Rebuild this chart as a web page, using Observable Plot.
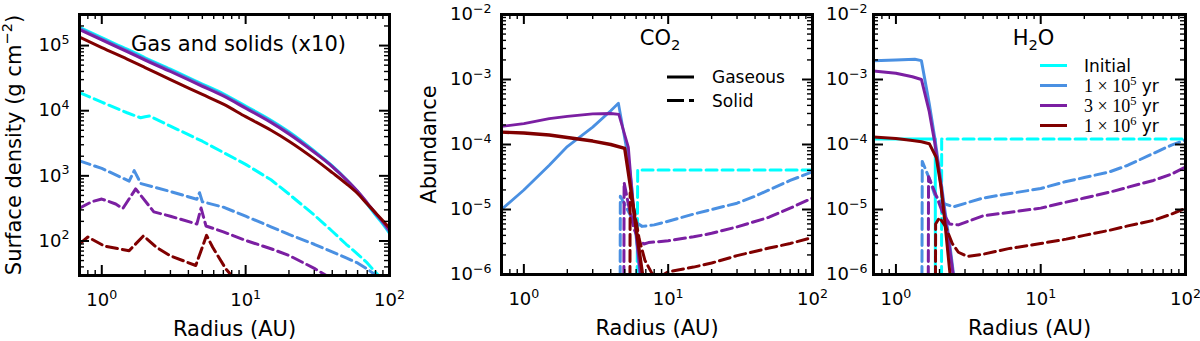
<!DOCTYPE html>
<html><head><meta charset="utf-8">
<script src="https://cdn.jsdelivr.net/npm/d3@7"></script>
<script src="https://cdn.jsdelivr.net/npm/@observablehq/plot@0.6"></script>
<style>
html,body{margin:0;padding:0;background:#fff;}
#chart{position:relative;width:1200px;height:341px;overflow:hidden;font-family:"DejaVu Sans",sans-serif;}
#chart svg{position:absolute;top:0;overflow:visible;}
</style></head><body><div id="chart"></div>
<script>
// ---------- tick values / labels ----------
const xMajor = [1, 10, 100];
const xMinor = [0.7, 0.8, 0.9, 2, 3, 4, 5, 6, 7, 8, 9, 20, 30, 40, 50, 60, 70, 80, 90];
const xTickLabels = ["10^{0}", "10^{1}", "10^{2}"];
const sigmaMajor = [1e2, 1e3, 1e4, 1e5];
const sigmaMinor = [30, 40, 50, 60, 70, 80, 90, 200, 300, 400, 500, 600, 700, 800, 900,
  2000, 3000, 4000, 5000, 6000, 7000, 8000, 9000, 2e4, 3e4, 4e4, 5e4, 6e4, 7e4, 8e4, 9e4, 2e5, 3e5];
const sigmaTickLabels = ["10^{2}", "10^{3}", "10^{4}", "10^{5}"];
const abMajor = [1e-6, 1e-5, 1e-4, 1e-3, 1e-2];
const abMinor = [2e-6, 3e-6, 4e-6, 5e-6, 6e-6, 7e-6, 8e-6, 9e-6, 2e-5, 3e-5, 4e-5, 5e-5, 6e-5, 7e-5, 8e-5, 9e-5,
  2e-4, 3e-4, 4e-4, 5e-4, 6e-4, 7e-4, 8e-4, 9e-4, 2e-3, 3e-3, 4e-3, 5e-3, 6e-3, 7e-3, 8e-3, 9e-3];
const abTickLabels = ["10^{−6}", "10^{−5}", "10^{−4}", "10^{−3}", "10^{−2}"];

// ---------- series (time order: Initial, 1e5, 3e5, 1e6 yr) ----------
const timeLabels = ["Initial", "1×10^{5} yr", "3×10^{5} yr", "1×10^{6} yr"];
const timeColors = ["#00ffff", "#4a90e2", "#7b1fa2", "#800000"];
const phaseLabels = ["Gaseous", "Solid"];

// Panel 1: surface density (gas solid lines, solids x10 dashed)
const gasRadius = [0.7, 1, 1.5, 2, 3, 5, 7, 10, 15, 20, 30, 40, 50, 60, 70, 80, 90, 100];
const gasInitial = [1.91e5, 1.32e5, 8.8e4, 6.5e4, 4.34e4, 2.57e4, 1.82e4, 1.18e4, 7.15e3, 4.75e3, 2.41e3, 1.42e3, 880, 567, 367, 249, 181, 131];
const gas1e5 = [1.84e5, 1.27e5, 8.45e4, 6.25e4, 4.17e4, 2.47e4, 1.75e4, 1.13e4, 6.85e3, 4.57e3, 2.35e3, 1.40e3, 880, 573, 376, 258, 189, 137];
const gas3e5 = [1.76e5, 1.22e5, 8.1e4, 6.0e4, 4.0e4, 2.37e4, 1.68e4, 1.09e4, 6.6e3, 4.4e3, 2.3e3, 1.39e3, 880, 580, 385, 267, 197, 144];
const gas1e6 = [1.35e5, 9.3e4, 6.2e4, 4.6e4, 3.0e4, 1.78e4, 1.26e4, 8.1e3, 5.0e3, 3.4e3, 1.82e3, 1.12e3, 760, 535, 370, 270, 204, 158];

const solidInitial = [[0.7, 1.9e4], [1, 1.35e4], [1.5, 9.3e3], [1.86, 7.8e3], [2.0, 8.1e3], [2.14, 8.3e3], [3, 5.8e3], [5, 3.4e3], [10, 1.5e3], [15, 870], [20, 525], [30, 250], [40, 141], [50, 89], [60, 63], [70, 46], [80, 33], [90, 25], [100, 19]];
const solid1e5 = [[0.7, 1.7e3], [1, 1.3e3], [1.55, 830], [1.68, 1.2e3], [1.87, 760], [3, 575], [4.58, 437], [4.78, 550], [5.0, 400], [7, 330], [10, 240], [15, 165], [20, 126], [30, 89], [40, 68], [50, 55], [60, 46], [70, 37], [80, 30], [100, 20]];
const solid3e5 = [[0.7, 320], [0.85, 400], [1.0, 440], [1.25, 370], [1.4, 315], [1.72, 630], [2.3, 280], [3, 240], [4.58, 182], [4.9, 320], [5.3, 170], [7, 138], [10, 102], [15, 76], [20, 60], [30, 38], [40, 26], [60, 14], [100, 6]];
const solid1e6 = [[0.7, 90], [0.8, 115], [1.05, 83], [1.3, 76], [1.55, 71], [1.95, 120], [2.4, 80], [3, 59], [4.5, 42], [5.35, 122], [5.9, 80], [7.3, 37], [8.5, 25], [10, 18]];

// Panel 2: CO2 abundance [radius AU, abundance]
const co2GasInitial = [];
const co2Gas1e5 = [[0.7, 1.0e-5], [1, 2.0e-5], [1.5, 4.8e-5], [2, 9.3e-5], [3, 1.85e-4], [4, 3.3e-4], [4.52, 4.3e-4], [4.9, 1.6e-4], [5.3, 6e-5], [5.6, 2.2e-5], [5.9, 5.5e-6], [6.3, 1.2e-6], [6.7, 3e-7]];
const co2Gas3e5 = [[0.7, 1.9e-4], [1, 2.1e-4], [1.5, 2.5e-4], [2, 2.7e-4], [3, 2.95e-4], [4, 3.0e-4], [4.55, 2.9e-4], [5.3, 9e-5], [5.6, 2.0e-5], [6.0, 4.2e-6], [6.4, 1.1e-6], [6.8, 3e-7]];
const co2Gas1e6 = [[0.7, 1.55e-4], [1, 1.5e-4], [1.5, 1.4e-4], [2, 1.28e-4], [3, 1.13e-4], [4, 1.0e-4], [5, 8.7e-5], [5.5, 2.1e-5], [6, 5.1e-6], [6.6, 1.1e-6], [7, 4.4e-7]];
const co2SolidInitial = [[6.0, 1e-9], [6.15, 4.07e-5], [100, 4.07e-5]];
const co2Solid1e5 = [[4.62, 1e-9], [4.66, 1.6e-5], [5.0, 1.2e-5], [5.5, 8e-6], [6.0, 6.3e-6], [6.6, 5.5e-6], [8, 5.8e-6], [10, 6.6e-6], [15, 8.5e-6], [20, 1.0e-5], [30, 1.25e-5], [40, 1.6e-5], [50, 2.0e-5], [70, 2.8e-5], [100, 3.8e-5]];
const co2Solid3e5 = [[4.9, 1e-9], [4.95, 2.6e-5], [5.3, 1.2e-5], [5.8, 5e-6], [6.3, 3.3e-6], [6.8, 2.95e-6], [7.3, 3.1e-6], [10, 3.3e-6], [15, 3.8e-6], [20, 4.3e-6], [30, 5.4e-6], [50, 7.6e-6], [70, 1.05e-5], [100, 1.5e-5]];
const co2Solid1e6 = [[5.4, 1e-9], [5.45, 1.8e-5], [5.8, 1.0e-5], [6.3, 3.5e-6], [6.9, 1.65e-6], [7.7, 1.05e-6], [8.4, 9e-7], [9.3, 1.0e-6], [10, 1.1e-6], [15, 1.3e-6], [20, 1.5e-6], [30, 1.95e-6], [50, 2.55e-6], [70, 3.0e-6], [100, 3.7e-6]];

// Panel 3: H2O abundance [radius AU, abundance]
const h2oGasInitial = [[0.7, 1.22e-4], [1.87, 1.22e-4], [1.875, 1e-9]];
const h2oGas1e5 = [[0.7, 1.95e-3], [1, 2.0e-3], [1.35, 2.05e-3], [1.5, 1.95e-3], [1.7, 4.2e-4], [1.85, 1.3e-4], [2.0, 4e-5], [2.15, 1.2e-5], [2.35, 3e-6], [2.5, 1e-6], [2.7, 3e-7]];
const h2oGas3e5 = [[0.7, 1.35e-3], [1, 1.25e-3], [1.3, 1.1e-3], [1.5, 1.0e-3], [1.7, 3.2e-4], [1.85, 1.1e-4], [2.0, 3.5e-5], [2.15, 1e-5], [2.35, 2.5e-6], [2.5, 9e-7], [2.7, 3e-7]];
const h2oGas1e6 = [[0.7, 1.3e-4], [1, 1.24e-4], [1.3, 1.15e-4], [1.5, 1.1e-4], [1.7, 1.03e-4], [1.9, 6.3e-5], [2.05, 2.2e-5], [2.17, 6.8e-6], [2.35, 1.15e-6], [2.5, 3e-7]];
const h2oSolidInitial = [[2.06, 1e-9], [2.07, 1.22e-4], [100, 1.22e-4]];
const h2oSolid1e5 = [[1.5, 1e-9], [1.52, 5.5e-5], [1.7, 3e-5], [1.85, 1.7e-5], [2.1, 1.25e-5], [2.5, 1.1e-5], [4, 1.5e-5], [6, 1.75e-5], [10, 2.1e-5], [15, 2.7e-5], [20, 3.1e-5], [30, 3.8e-5], [40, 4.8e-5], [60, 7.3e-5], [80, 9.8e-5], [100, 1.17e-4]];
const h2oSolid3e5 = [[1.66, 1e-9], [1.68, 3.2e-5], [1.8, 2.2e-5], [1.95, 1.4e-5], [2.1, 9e-6], [2.35, 6e-6], [2.7, 5.8e-6], [4, 8e-6], [6, 9e-6], [10, 1.05e-5], [15, 1.3e-5], [20, 1.5e-5], [30, 1.85e-5], [40, 2.2e-5], [60, 2.8e-5], [80, 3.5e-5], [100, 4.5e-5]];
const h2oSolid1e6 = [[1.86, 1e-9], [1.88, 6e-6], [2.0, 7.5e-6], [2.2, 5.5e-6], [2.45, 3e-6], [2.7, 2.2e-6], [3.1, 1.9e-6], [4, 2.05e-6], [6, 2.5e-6], [10, 3.0e-6], [15, 3.5e-6], [20, 4e-6], [30, 4.8e-6], [40, 5.6e-6], [60, 6.8e-6], [80, 8.5e-6], [100, 1.05e-5]];

// ---------- helpers ----------
const FONT = "DejaVu Sans";
const DASH = "11,5";
const H = 341;
const TICKFS = 18;
const LABELFS = 21;

function richify(root) {
  d3.select(root).selectAll("text").each(function () {
    const s = this.textContent;
    if (!/[\^_]\{/.test(s)) return;
    const fs = parseFloat(this.getAttribute("font-size") || getComputedStyle(this).fontSize) || 17;
    const re = /([\^_])\{([^}]*)\}|([^\^_]+)/g;
    const parts = []; let m;
    while ((m = re.exec(s))) {
      if (m[3] !== undefined) parts.push({t: m[3], k: 0});
      else parts.push({t: m[2], k: m[1] === "^" ? -1 : 1});
    }
    this.textContent = "";
    let prev = 0;
    for (const p of parts) {
      const off = p.k === -1 ? -0.42 * fs : p.k === 1 ? 0.25 * fs : 0;
      const ts = d3.select(this).append("tspan").text(p.t);
      if (off - prev !== 0) ts.attr("dy", (off - prev).toFixed(2));
      if (p.k) ts.attr("font-size", (0.7 * fs).toFixed(1));
      prev = off;
    }
  });
}

function ticks(innerW, innerH, yMaj, yMin) {
  const L = 10, l = 5;
  const M = {stroke: "black", strokeWidth: 2};
  const m = {stroke: "black", strokeWidth: 1.4};
  return [
    Plot.tickX(xMajor, {x: d => d, insetTop: innerH - L, ...M}),
    Plot.tickX(xMajor, {x: d => d, insetBottom: innerH - L, ...M}),
    Plot.tickX(xMinor, {x: d => d, insetTop: innerH - l, ...m}),
    Plot.tickX(xMinor, {x: d => d, insetBottom: innerH - l, ...m}),
    Plot.tickY(yMaj, {y: d => d, insetRight: innerW - L, ...M}),
    Plot.tickY(yMaj, {y: d => d, insetLeft: innerW - L, ...M}),
    Plot.tickY(yMin, {y: d => d, insetRight: innerW - l, ...m}),
    Plot.tickY(yMin, {y: d => d, insetLeft: innerW - l, ...m})
  ];
}

function line(data, color, dashed, w = 3, curve = "linear") {
  return Plot.line(data, {x: d => d[0], y: d => d[1], stroke: color, strokeWidth: w, curve,
    strokeDasharray: dashed ? DASH : null, strokeLinejoin: "round", clip: true});
}

const T = {fill: "black", lineAnchor: "middle", text: d => d};

function xTickText() {
  return Plot.text(xTickLabels, {...T, x: (d, i) => xMajor[i], frameAnchor: "bottom", dy: 25, textAnchor: "middle", fontSize: TICKFS});
}
function yTickText(labels, values, dx) {
  return Plot.text(labels, {...T, y: (d, i) => values[i], frameAnchor: "left", dx, textAnchor: "end", fontSize: TICKFS});
}
function xTitle() {
  return Plot.text(["Radius (AU)"], {...T, frameAnchor: "bottom", dy: 54, textAnchor: "middle", fontSize: LABELFS});
}

function place(svg, left) {
  svg.style.left = left + "px";
  document.getElementById("chart").appendChild(svg);
  richify(svg);
}

// ---------- Panel 1 ----------
{
  const W = 400, ml = 79, mr = 11, mt = 14, mb = 66;
  const iw = W - ml - mr, ih = H - mt - mb;
  const gasSeries = [gasInitial, gas1e5, gas3e5, gas1e6].map(v => gasRadius.map((r, i) => [r, v[i]]));
  const solidSeries = [solidInitial, solid1e5, solid3e5, solid1e6];
  const marks = [];
  for (let i = 0; i < 4; i++) marks.push(line(gasSeries[i], timeColors[i], false, 3, "monotone-x"));
  for (let i = 0; i < 4; i++) marks.push(line(solidSeries[i], timeColors[i], true));
  const svg = Plot.plot({
    width: W, height: H, marginLeft: ml, marginRight: mr, marginTop: mt, marginBottom: mb,
    style: {fontFamily: FONT, fontSize: "17px", background: "transparent"},
    x: {type: "log", domain: [0.7, 100], axis: null},
    y: {type: "log", domain: [29.5, 3e5], axis: null},
    marks: [
      ...marks,
      ...ticks(iw, ih, sigmaMajor, sigmaMinor),
      Plot.frame({stroke: "black", strokeWidth: 3}),
      xTickText(),
      yTickText(sigmaTickLabels, sigmaMajor, -10),
      Plot.text(["Gas and solids (x10)"], {...T, frameAnchor: "top", dx: 4, dy: 29.5, textAnchor: "middle", fontSize: LABELFS}),
      xTitle(),
      Plot.text(["Surface density (g cm^{−2})"], {...T, frameAnchor: "left", dx: -65.5, rotate: -90, textAnchor: "middle", fontSize: LABELFS})
    ]
  });
  place(svg, 0);
}

// ---------- Panel 2 (CO2) ----------
{
  const W = 420, ml = 101, mr = 8, mt = 14, mb = 67;
  const iw = W - ml - mr, ih = H - mt - mb;
  const gas = [co2GasInitial, co2Gas1e5, co2Gas3e5, co2Gas1e6];
  const solid = [co2SolidInitial, co2Solid1e5, co2Solid3e5, co2Solid1e6];
  const marks = [];
  for (let i = 0; i < 4; i++) {
    if (gas[i].length) marks.push(line(gas[i], timeColors[i], false, i === 3 ? 3.4 : 2.8));
    marks.push(line(solid[i], timeColors[i], true));
  }
  const svg = Plot.plot({
    width: W, height: H, marginLeft: ml, marginRight: mr, marginTop: mt, marginBottom: mb,
    style: {fontFamily: FONT, fontSize: "17px", background: "transparent"},
    x: {type: "log", domain: [0.7, 100], axis: null},
    y: {type: "log", domain: [1e-6, 1e-2], axis: null},
    marks: [
      ...marks,
      ...ticks(iw, ih, abMajor, abMinor),
      Plot.frame({stroke: "black", strokeWidth: 3}),
      xTickText(),
      yTickText(abTickLabels, abMajor, -10),
      Plot.text(["CO_{2}"], {...T, frameAnchor: "top", dx: 3, dy: 24, textAnchor: "middle", fontSize: LABELFS}),
      xTitle(),
      Plot.text(["Abundance"], {...T, frameAnchor: "left", dx: -72, rotate: -90, textAnchor: "middle", fontSize: LABELFS})
    ]
  });
  place(svg, 400);
}

// ---------- Panel 3 (H2O) ----------
{
  const W = 380, ml = 53, mr = 15, mt = 14, mb = 67;
  const iw = W - ml - mr, ih = H - mt - mb;
  const gas = [h2oGasInitial, h2oGas1e5, h2oGas3e5, h2oGas1e6];
  const solid = [h2oSolidInitial, h2oSolid1e5, h2oSolid3e5, h2oSolid1e6];
  const marks = [];
  for (let i = 0; i < 4; i++) {
    marks.push(line(gas[i], timeColors[i], false));
    marks.push(line(solid[i], timeColors[i], true));
  }
  const svg = Plot.plot({
    width: W, height: H, marginLeft: ml, marginRight: mr, marginTop: mt, marginBottom: mb,
    style: {fontFamily: FONT, fontSize: "17px", background: "transparent"},
    x: {type: "log", domain: [0.7, 100], axis: null},
    y: {type: "log", domain: [1e-6, 1e-2], axis: null},
    marks: [
      ...marks,
      ...ticks(iw, ih, abMajor, abMinor),
      Plot.frame({stroke: "black", strokeWidth: 3}),
      xTickText(),
      yTickText(abTickLabels, abMajor, -6),
      Plot.text(["H_{2}O"], {...T, frameAnchor: "top", dx: 4, dy: 24, textAnchor: "middle", fontSize: LABELFS}),
      xTitle()
    ]
  });
  place(svg, 820);
}

// ---------- Legends ----------
{
  const ov = d3.select("#chart").append("svg")
    .attr("width", 1200).attr("height", H).style("left", "0px").style("pointer-events", "none");
  function sample(x, y, color, dash) {
    ov.append("line").attr("x1", x).attr("x2", x + 27).attr("y1", y).attr("y2", y)
      .attr("stroke", color).attr("stroke-width", 3).attr("stroke-dasharray", dash);
  }
  phaseLabels.forEach((t, i) => {
    const y = 77 + i * 23.5;
    sample(667, y, "black", i === 1 ? "17,5,5" : null);
    ov.append("text").attr("x", 712).attr("y", y).attr("dy", "0.36em")
      .attr("font-family", FONT).attr("font-size", 17).text(t);
  });
  timeLabels.forEach((t, i) => {
    const y = 65.5 + i * 20;
    sample(1040, y, timeColors[i], null);
    const tx = ov.append("text").attr("x", 1084).attr("y", y).attr("dy", "0.36em")
      .attr("font-size", 17).attr("font-family", FONT);
    const m = t.match(/^(.*)\^\{(.*)\}(.*)$/);
    if (!m) { tx.text(t); return; }
    const base = m[1].replace("×", " × ");
    tx.append("tspan").attr("font-family", "Liberation Serif").attr("font-size", 18).text(base);
    tx.append("tspan").attr("font-family", "Liberation Serif").attr("font-size", 12.5).attr("dy", -7).text(m[2]);
    tx.append("tspan").attr("dy", 7).text(m[3]);
  });
}
</script></body></html>
